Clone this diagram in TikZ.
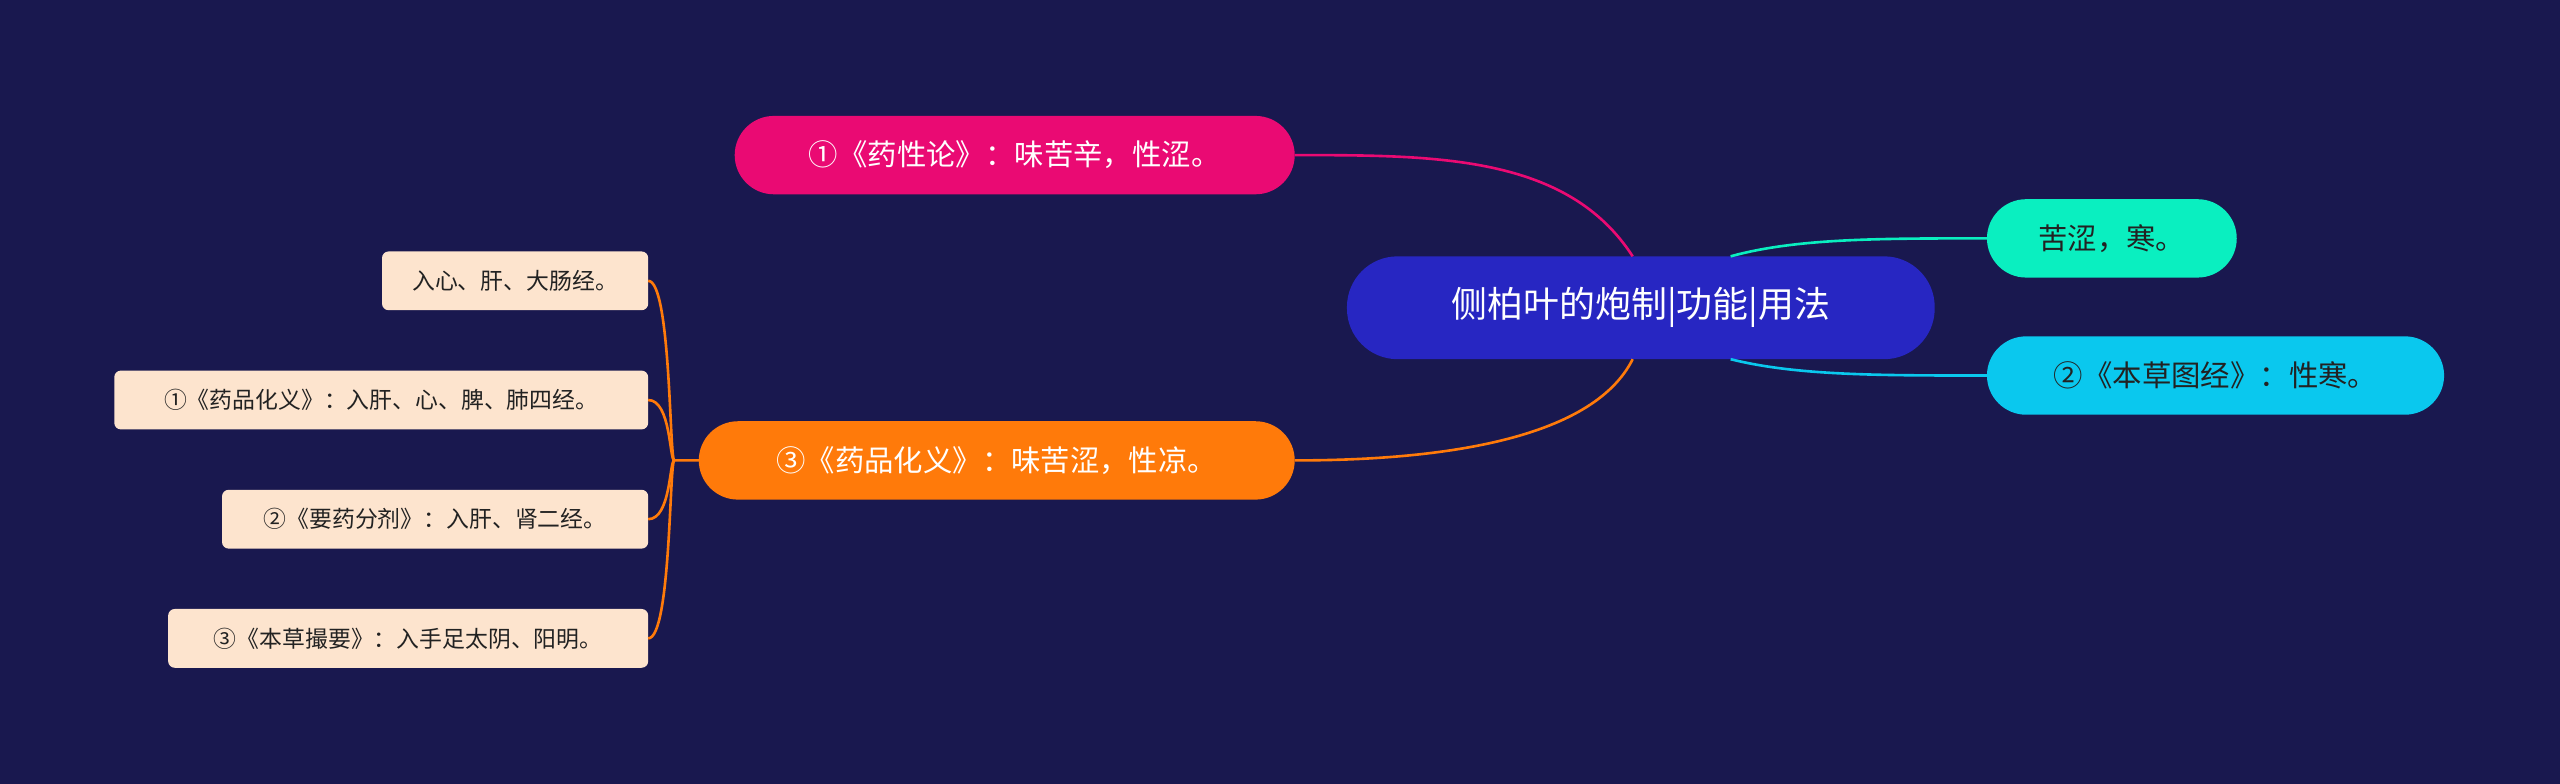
\documentclass[tikz,border=0pt]{standalone}
\usepackage{fontspec}
\setmainfont{Noto Sans CJK SC}
\definecolor{bg}{HTML}{19184F}
\definecolor{cen}{HTML}{2726C2}
\definecolor{mag}{HTML}{EA0A73}
\definecolor{org}{HTML}{FF7A0A}
\definecolor{teal}{HTML}{0AEFC0}
\definecolor{cyan}{HTML}{0AC8EE}
\definecolor{leaf}{HTML}{FDE4CE}
\definecolor{dk}{HTML}{222222}
\begin{document}
\begin{tikzpicture}[x=1pt,y=-1pt,
 box/.style={rounded corners=#1,inner sep=0pt,anchor=north west},
 lf/.style={draw=none,fill=leaf,rounded corners=4pt},
 ln/.style={line width=1.6pt}]
\fill[bg] (0,0) rectangle (1568,480);
\useasboundingbox (0,0) rectangle (1568,480);
% central
\fill[cen,rounded corners=31pt] (825,157) rectangle (1185,220);
\node[text=white,font=\fontsize{22}{26}\selectfont] (c) at (1005,188.5) {侧柏叶的炮制|功能|用法};
% level1
\fill[mag,rounded corners=24pt] (450,71) rectangle (793,119);
\node[text=white,font=\fontsize{18}{22}\selectfont] (a) at (621.5,95) {①《药性论》：味苦辛，性涩。};
\fill[org,rounded corners=24pt] (428,258) rectangle (793,306);
\node[text=white,font=\fontsize{18}{22}\selectfont] (b) at (610.5,282) {③《药品化义》：味苦涩，性凉。};
\fill[teal,rounded corners=24pt] (1217,122) rectangle (1370,170);
\node[text=dk,font=\fontsize{18}{22}\selectfont] (r1) at (1293.5,146) {苦涩，寒。};
\fill[cyan,rounded corners=24pt] (1217,206) rectangle (1497,254);
\node[text=dk,font=\fontsize{18}{22}\selectfont] (r2) at (1357,230) {②《本草图经》：性寒。};
% connectors
\coordinate (ct) at (1000,157);
\coordinate (cb) at (1000,220);
\coordinate (crt) at (1060,157);
\coordinate (crb) at (1060,220);
\coordinate (ae) at (793,95);
\coordinate (be) at (793,282);
\coordinate (r1e) at (1217,146);
\coordinate (r2e) at (1217,230);
\draw[ln,mag] (ct) .. controls (960,95) and (880,95) .. (ae);
\draw[ln,org] (cb) .. controls (975,270) and (880,282) .. (be);
\draw[ln,teal] (crt) .. controls (1100,146) and (1150,146) .. (r1e);
\draw[ln,cyan] (crb) .. controls (1100,230) and (1150,230) .. (r2e);
% leaves
\fill[leaf,rounded corners=4pt] (234,154) rectangle (397,190);
\node[text=dk,font=\fontsize{14}{17}\selectfont] (l1) at (315.5,172) {入心、肝、大肠经。};
\fill[leaf,rounded corners=4pt] (70,227) rectangle (397,263);
\node[text=dk,font=\fontsize{14}{17}\selectfont] (l2) at (233.5,245) {①《药品化义》：入肝、心、脾、肺四经。};
\fill[leaf,rounded corners=4pt] (136,300) rectangle (397,336);
\node[text=dk,font=\fontsize{14}{17}\selectfont] (l3) at (266.5,318) {②《要药分剂》：入肝、肾二经。};
\fill[leaf,rounded corners=4pt] (103,373) rectangle (397,409);
\node[text=dk,font=\fontsize{14}{17}\selectfont] (l4) at (250,391) {③《本草撮要》：入手足太阴、阳明。};
\coordinate (bs) at (428,282);
\coordinate (l1e) at (397,172);
\coordinate (l2e) at (397,245);
\coordinate (l3e) at (397,318);
\coordinate (l4e) at (397,391);
\draw[ln,org] (bs) -- (413,282) .. controls (410,282) and (411,172) .. (l1e);
\draw[ln,org] (413,282) .. controls (410,282) and (411,245) .. (l2e);
\draw[ln,org] (413,282) .. controls (410,282) and (411,318) .. (l3e);
\draw[ln,org] (413,282) .. controls (410,282) and (411,391) .. (l4e);
\end{tikzpicture}
\end{document}
